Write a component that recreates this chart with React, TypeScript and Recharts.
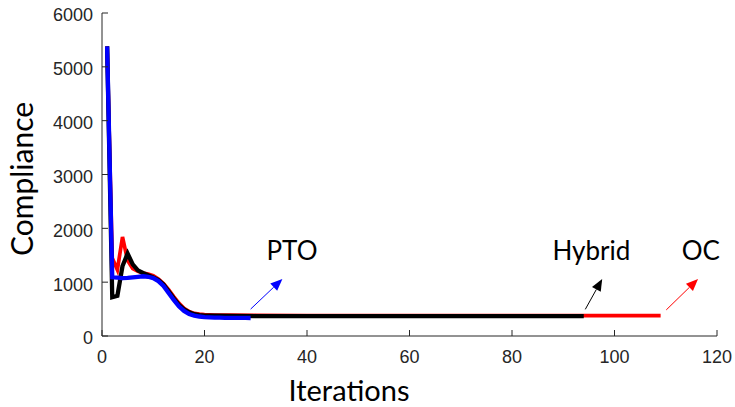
import { LineChart, Line, XAxis, YAxis, ReferenceLine, ReferenceDot } from 'recharts';

// iteration numbers and compliance values
const ptoIters = [1, 2, 3, 4, 5, 6, 7, 8, 9, 10, 11, 12, 13, 14, 15, 16, 17, 18, 19, 20, 21, 22, 23, 24, 25, 26, 27, 28, 29];
const ptoValues = [5380, 1090, 1085, 1075, 1080, 1090, 1100, 1110, 1100, 1075, 1020, 930, 800, 670, 550, 465, 410, 380, 362, 352, 346, 342, 340, 338, 337, 336, 335, 335, 334];

const hybridIters = [1, 2, 3, 4, 5, 6, 7, 8, 9, 10, 11, 12, 13, 14, 15, 16, 17, 18, 19, 20, 22, 25, 30, 40, 50, 60, 70, 80, 90, 94];
const hybridValues = [5380, 720, 745, 1300, 1530, 1330, 1220, 1170, 1130, 1090, 1040, 955, 830, 700, 580, 495, 440, 405, 388, 380, 376, 373, 371, 370, 369, 369, 368, 368, 368, 368];

const ocIters = [1, 2, 3, 4, 5, 6, 7, 8, 9, 10, 11, 12, 13, 14, 15, 16, 17, 18, 19, 20, 22, 25, 30, 40, 50, 60, 70, 80, 90, 100, 109];
const ocValues = [5380, 1450, 1230, 1840, 1400, 1250, 1200, 1170, 1150, 1120, 1060, 975, 860, 730, 610, 515, 455, 420, 405, 397, 390, 386, 383, 381, 380, 379, 378, 378, 378, 378, 378];

const xTicks = [0, 20, 40, 60, 80, 100, 120];
const yTicks = [0, 1000, 2000, 3000, 4000, 5000, 6000];

// annotation arrows (data units) and where their labels sit
const arrows = [
  { name: 'PTO', color: '#0000ff', from: [29, 500], to: [35.2, 1060], text: [32.1, 1410] },
  { name: 'Hybrid', color: '#000000', from: [94.3, 495], to: [97.6, 1060], text: [87.9, 1410] },
  { name: 'OC', color: '#ff0000', from: [110.1, 485], to: [116.3, 1060], text: [113.1, 1410] },
];

const toRows = (iters: number[], values: number[]) => iters.map((it, i) => ({ it, v: values[i] }));

const AXIS_FONT = '"Liberation Sans", Arial, sans-serif';
const LABEL_FONT = 'Lato, "Open Sans", sans-serif';

function arrowShape(color: string) {
  return (p: any) => {
    const { x1, y1, x2, y2 } = p;
    const ang = Math.atan2(y2 - y1, x2 - x1);
    const len = 12;
    const half = 5;
    const bx = x2 - len * Math.cos(ang);
    const by = y2 - len * Math.sin(ang);
    const nx = -Math.sin(ang);
    const ny = Math.cos(ang);
    return (
      <g>
        <line x1={x1} y1={y1} x2={bx} y2={by} stroke={color} strokeWidth={1} />
        <polygon
          points={`${x2},${y2} ${bx + nx * half},${by + ny * half} ${bx - nx * half},${by - ny * half}`}
          fill={color}
        />
      </g>
    );
  };
}

export default function App() {
  const pto = toRows(ptoIters, ptoValues);
  const hybrid = toRows(hybridIters, hybridValues);
  const oc = toRows(ocIters, ocValues);

  return (
    <div style={{ position: 'absolute', left: 0, top: 0, background: '#fff' }}>
      <LineChart width={735} height={407} margin={{ top: 13, right: 18, left: 0, bottom: 0 }}>
        <XAxis
          type="number"
          dataKey="it"
          domain={[0, 120]}
          ticks={xTicks}
          height={71}
          tickSize={-6}
          tickMargin={20}
          stroke="#262626"
          tick={{ fontSize: 18, fill: '#262626', fontFamily: AXIS_FONT }}
          allowDuplicatedCategory={false}
          label={(props: any) => (
            <text x={349} y={props.viewBox.y + 65} textAnchor="middle" fontSize={29} fontFamily={LABEL_FONT} fill="#000">
              Iterations
            </text>
          )}
        />
        <YAxis
          type="number"
          domain={[0, 6000]}
          ticks={yTicks}
          width={102}
          tickSize={-6}
          tickMargin={15}
          stroke="#262626"
          tick={{ fontSize: 18, fill: '#262626', fontFamily: AXIS_FONT, dy: 2 }}
          label={() => (
            <text
              x={33}
              y={179}
              transform="rotate(-90, 33, 179)"
              textAnchor="middle"
              fontSize={30}
              fontFamily={LABEL_FONT}
              fill="#000"
            >
              Compliance
            </text>
          )}
        />
        <Line data={oc} dataKey="v" stroke="#ff0000" strokeWidth={3.7} dot={false} isAnimationActive={false} />
        <Line data={hybrid} dataKey="v" stroke="#000000" strokeWidth={4.3} dot={false} isAnimationActive={false} />
        <Line data={pto} dataKey="v" stroke="#0000ff" strokeWidth={4.3} dot={false} isAnimationActive={false} />
        {arrows.map((a) => (
          <ReferenceLine
            key={a.name}
            segment={[
              { x: a.from[0], y: a.from[1] },
              { x: a.to[0], y: a.to[1] },
            ]}
            shape={arrowShape(a.color)}
            ifOverflow="visible"
          />
        ))}
        {arrows.map((a) => (
          <ReferenceDot
            key={a.name + '-t'}
            x={a.text[0]}
            y={a.text[1]}
            ifOverflow="visible"
            shape={(p: any) => (
              <text x={p.cx} y={p.cy} fontSize={26} fontFamily={LABEL_FONT} fill="#000">
                {a.name}
              </text>
            )}
          />
        ))}
      </LineChart>
    </div>
  );
}
